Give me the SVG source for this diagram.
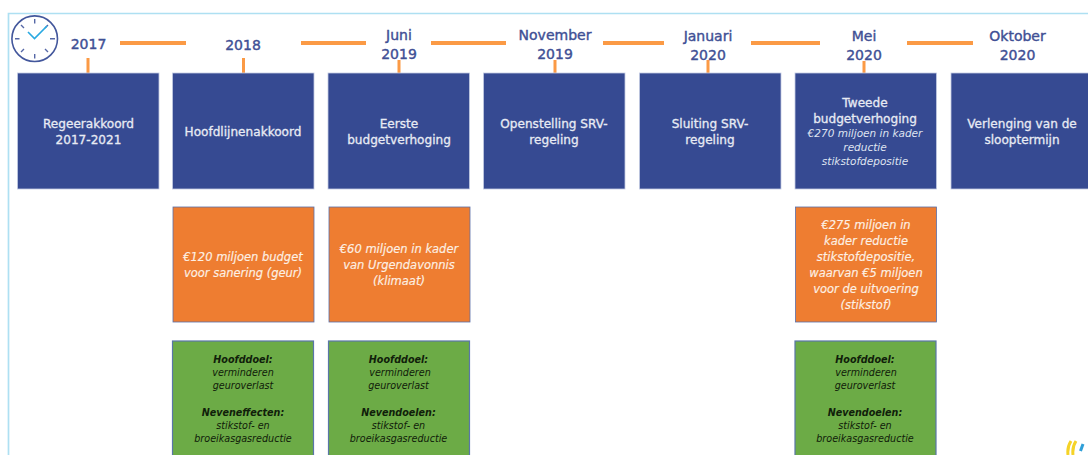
<svg xmlns="http://www.w3.org/2000/svg" width="1088" height="455" viewBox="0 0 1088 455">
<style>
text{font-family:"DejaVu Sans","Liberation Sans",sans-serif;text-anchor:middle}
.y{font-size:14px;fill:#3f5095;stroke:#3f5095;stroke-width:.4}
.t{font-size:12.100px;fill:#e8ebf4;stroke:#e8ebf4;stroke-width:.3}
.s{font-size:10.500px;font-style:italic;fill:#dfe3f0}
.o{font-size:11.500px;font-style:italic;fill:#fdf0e4;stroke:#fdf0e4;stroke-width:.15}
.g{font-size:9.600px;font-style:italic;fill:#10200a}
.gb{font-size:9.600px;font-style:italic;font-weight:bold;fill:#10200a}
.b{fill:#364a92;stroke:#c3cbe3;stroke-width:.8}
.r{fill:#ee7d31;stroke:#5a6fa8;stroke-width:.8}
.v{fill:#6cab46;stroke:#5a76a8;stroke-width:1.200}
.c{stroke:#fb9a45;fill:none}
</style>
<path d="M8.500 455V13.500H1088" fill="none" stroke="#aee0f2" stroke-width="1.700"/>
<g id="clock" fill="none">
<circle cx="34.700" cy="38.700" r="22.800" stroke="#43579c" stroke-width="1.600"/>
<path d="M34.700 19v4.500M34.700 54v4.500M15 38.700h4.500M50 38.700h5M21 25l3 3M48 25l-3 3M21 52l3-3M48 52l-3-3" stroke="#5567a6" stroke-width="1.400"/>
<path d="M28 32l6.500 6.500L47 26" stroke="#29a9e1" stroke-width="1.600"/>
</g>
<g id="connectors" class="c">
<path stroke-width="4" d="M120 43h66M301 43h65M431 43h75M603 43h61M751 43h69M907 43h66"/>
<path stroke-width="3" d="M88 58v15M243.500 58v15M399 60v13M555 60v13M708 60v13M864 61v12"/>
</g>
<g id="n2017"><text class="y" x="88.500" y="48.500">2017</text><rect class="b" x="17.500" y="73" width="141.500" height="116"/><text class="t" x="88.500" y="128">Regeerakkoord</text><text class="t" x="88.500" y="144">2017-2021</text></g>
<g id="n2018"><text class="y" x="243" y="49.500">2018</text><rect class="b" x="172.500" y="73" width="141.500" height="116"/><text class="t" x="243" y="136">Hoofdlijnenakkoord</text></g>
<g id="n2019a"><text class="y" x="399" y="40">Juni</text><text class="y" x="399" y="58.500">2019</text><rect class="b" x="328" y="73" width="141.500" height="116"/><text class="t" x="399" y="128">Eerste</text><text class="t" x="399" y="144">budgetverhoging</text></g>
<g id="n2019b"><text class="y" x="555" y="40">November</text><text class="y" x="555" y="58.500">2019</text><rect class="b" x="483.500" y="73" width="141.500" height="116"/><text class="t" x="554" y="128">Openstelling SRV-</text><text class="t" x="554" y="144">regeling</text></g>
<g id="n2020a"><text class="y" x="708" y="41">Januari</text><text class="y" x="708" y="59.500">2020</text><rect class="b" x="639.500" y="73" width="141.500" height="116"/><text class="t" x="710" y="128">Sluiting SRV-</text><text class="t" x="710" y="144">regeling</text></g>
<g id="n2020b"><text class="y" x="864" y="41">Mei</text><text class="y" x="864" y="59.500">2020</text><rect class="b" x="795" y="73" width="141.500" height="116"/><text class="t" x="865" y="107">Tweede</text><text class="t" x="865" y="123">budgetverhoging</text><text class="s" x="865" y="137">€270 miljoen in kader</text><text class="s" x="865" y="151">reductie</text><text class="s" x="865" y="165">stikstofdepositie</text></g>
<g id="n2020c"><text class="y" x="1017.500" y="41">Oktober</text><text class="y" x="1017.500" y="59.500">2020</text><rect class="b" x="951" y="73" width="141.500" height="116"/><text class="t" x="1022" y="128">Verlenging van de</text><text class="t" x="1022" y="144">sloopterm&#105;jn</text></g>
<g id="o2018"><rect class="r" x="173" y="207" width="141" height="115"/><text class="o" x="243" y="261">€120 miljoen budget</text><text class="o" x="243" y="277">voor sanering (geur)</text></g>
<g id="o2019"><rect class="r" x="329" y="207" width="141" height="115"/><text class="o" x="399" y="253">€60 miljoen in kader</text><text class="o" x="399" y="269">van Urgendavonnis</text><text class="o" x="399" y="285">(klimaat)</text></g>
<g id="o2020"><rect class="r" x="795.500" y="207" width="141" height="115"/><text class="o" x="866" y="229">€275 miljoen in</text><text class="o" x="866" y="245">kader reductie</text><text class="o" x="866" y="261">stikstofdepositie,</text><text class="o" x="866" y="277">waarvan €5 miljoen</text><text class="o" x="866" y="293">voor de uitvoering</text><text class="o" x="866" y="309">(stikstof)</text></g>
<g id="g2018"><rect class="v" x="172.500" y="341" width="141" height="118"/><text class="gb" x="243" y="363">Hoofddoel:</text><text class="g" x="243" y="376">verminderen</text><text class="g" x="243" y="389">geuroverlast</text><text class="gb" x="243" y="416">Neveneffecten:</text><text class="g" x="243" y="429">stikstof- en</text><text class="g" x="243" y="441.500">broeikasgasreductie</text></g>
<g id="g2019"><rect class="v" x="328.500" y="341" width="141" height="118"/><text class="gb" x="398.500" y="363">Hoofddoel:</text><text class="g" x="400" y="376">verminderen</text><text class="g" x="398.500" y="389">geuroverlast</text><text class="gb" x="398.500" y="416">Nevendoelen:</text><text class="g" x="398.500" y="429">stikstof- en</text><text class="g" x="398.500" y="441.500">broeikasgasreductie</text></g>
<g id="g2020"><rect class="v" x="795" y="341" width="141" height="118"/><text class="gb" x="865" y="363">Hoofddoel:</text><text class="g" x="866" y="376">verminderen</text><text class="g" x="865" y="389">geuroverlast</text><text class="gb" x="865" y="416">Nevendoelen:</text><text class="g" x="865" y="429">stikstof- en</text><text class="g" x="865" y="441.500">broeikasgasreductie</text></g>
<g id="logo" fill="none" stroke-width="3"><path d="M1071 441q-4 6-3 14M1076 441q-4 6-3 14" stroke="#f5d327"/><path d="M1083 444l-2.500 7" stroke="#2f9fd8"/></g>
</svg>
